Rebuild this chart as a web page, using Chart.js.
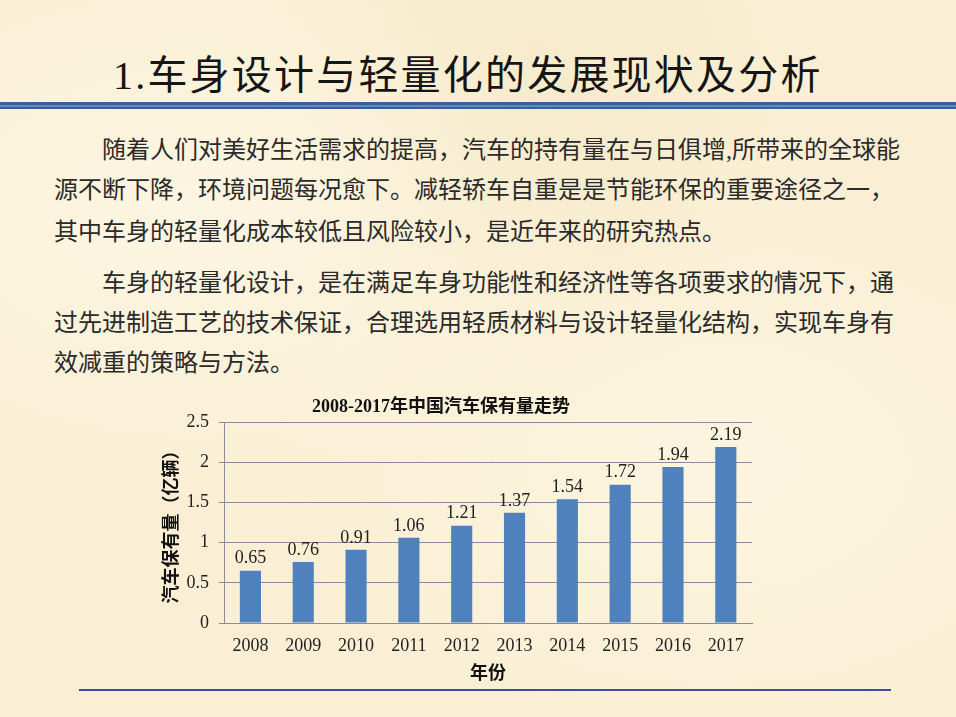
<!DOCTYPE html>
<html lang="zh-CN">
<head>
<meta charset="utf-8">
<title>车身设计与轻量化的发展现状及分析</title>
<script src="https://cdn.jsdelivr.net/npm/chart.js@4.4.1/dist/chart.umd.min.js"></script>
<style>
  html, body { margin: 0; padding: 0; }
  body {
    width: 956px; height: 717px; position: relative; overflow: hidden;
    background-color: #faefd4;
    background-image:
      radial-gradient(ellipse at 20% 30%, rgba(255,250,235,0.6), rgba(255,250,235,0) 40%),
      radial-gradient(ellipse at 75% 65%, rgba(255,250,235,0.5), rgba(255,250,235,0) 45%),
      radial-gradient(ellipse at 55% 15%, rgba(240,225,185,0.35), rgba(240,225,185,0) 35%);
    font-family: "Liberation Serif", "Noto Sans CJK SC", serif;
    color: #222;
  }
  .title {
    position: absolute; left: 113px; top: 48px;
    font-size: 40px; line-height: 56px; color: #151515;
    letter-spacing: 2.2px;
  }
  .rule {
    position: absolute; left: 0; width: 956px; top: 102px; height: 7px;
    background: #3d5f95;
  }
  .rule::after {
    content: ""; position: absolute; left: 0; right: 0; top: 2.5px; height: 2px;
    background: #5f88c6;
  }
  .line {
    position: absolute; font-size: 24px; line-height: 30px; white-space: nowrap;
    color: #2a2a2a;
  }
  #wrap { position: absolute; left: 126px; top: 392px; width: 630px; height: 293px; }
  .foot {
    position: absolute; left: 79px; width: 812px; top: 689px; height: 1.5px;
    background: #3b4f9a;
  }
</style>
</head>
<body>
<div class="title">1.车身设计与轻量化的发展现状及分析</div>
<div class="rule"></div>

<div class="line" style="left:102px; top:135px;">随着人们对美好生活需求的提高，汽车的持有量在与日俱增,所带来的全球能</div>
<div class="line" style="left:54px; top:175px;">源不断下降，环境问题每况愈下。减轻轿车自重是是节能环保的重要途径之一，</div>
<div class="line" style="left:54px; top:217px;">其中车身的轻量化成本较低且风险较小，是近年来的研究热点。</div>
<div class="line" style="left:102px; top:268px;">车身的轻量化设计，是在满足车身功能性和经济性等各项要求的情况下，通</div>
<div class="line" style="left:54px; top:308px;">过先进制造工艺的技术保证，合理选用轻质材料与设计轻量化结构，实现车身有</div>
<div class="line" style="left:54px; top:348px;">效减重的策略与方法。</div>

<div id="wrap"><canvas id="grafico"></canvas></div>
<div class="foot"></div>

<script>
// dados do gráfico
const anos = ['2008', '2009', '2010', '2011', '2012', '2013', '2014', '2015', '2016', '2017'];
const quantidades = [0.65, 0.76, 0.91, 1.06, 1.21, 1.37, 1.54, 1.72, 1.94, 2.19];
const ticksY = [0, 0.5, 1, 1.5, 2, 2.5];

const serif = '"Liberation Serif", "Noto Sans CJK SC", serif';
const corGrade = '#8a8c9c';

// rótulos de valor acima das barras
const rotulosBarras = {
    id: 'rotulosBarras',
    afterDatasetsDraw(chart) {
        const ctx = chart.ctx;
        const meta = chart.getDatasetMeta(0);
        ctx.save();
        ctx.font = '18px ' + serif;
        ctx.fillStyle = '#222';
        ctx.textAlign = 'center';
        ctx.textBaseline = 'middle';
        meta.data.forEach(function(bar, i) {
            ctx.fillText(String(quantidades[i]), bar.x, bar.y - 12);
        });
        ctx.restore();
    }
};

new Chart(document.getElementById('grafico'), {
    type: 'bar',
    data: {
        labels: anos,
        datasets: [{
            label: '汽车保有量',
            data: quantidades,
            backgroundColor: '#4f81bd',
            borderWidth: 0,
            barPercentage: 0.4,
            categoryPercentage: 1.0
        }]
    },
    options: {
        responsive: true,
        maintainAspectRatio: false,
        animation: false,
        layout: { padding: 0 },
        plugins: {
            legend: { display: false },
            tooltip: { enabled: false },
            title: {
                display: true,
                text: '2008-2017年中国汽车保有量走势',
                color: '#111',
                font: { family: serif, size: 18, weight: 'bold' },
                padding: { top: 4.2, bottom: 4.2 }
            }
        },
        scales: {
            x: {
                grid: { display: false, drawTicks: false },
                border: { display: true, color: corGrade },
                ticks: {
                    color: '#222',
                    padding: 12.2,
                    font: { family: serif, size: 18 }
                },
                title: {
                    display: true,
                    text: '年份',
                    color: '#111',
                    font: { family: serif, size: 18, weight: 'bold' },
                    // o Chart.js conta o padding dos ticks duas vezes
                    padding: { top: -5.6, bottom: 0 }
                }
            },
            y: {
                min: 0,
                max: 2.5,
                afterBuildTicks(axis) {
                    axis.ticks = ticksY.map(function(v) { return { value: v }; });
                },
                grid: { color: corGrade, tickLength: 5, drawTicks: true },
                border: { display: true, color: corGrade },
                ticks: {
                    color: '#222',
                    padding: 10,
                    font: { family: serif, size: 18 },
                    callback: function(v) { return String(v); }
                },
                title: {
                    display: true,
                    text: '汽车保有量（亿辆）',
                    color: '#111',
                    font: { family: serif, size: 18, weight: 'bold' },
                    padding: { top: 35.2, bottom: -6.3 }
                }
            }
        }
    },
    plugins: [rotulosBarras]
});
</script>
</body>
</html>
